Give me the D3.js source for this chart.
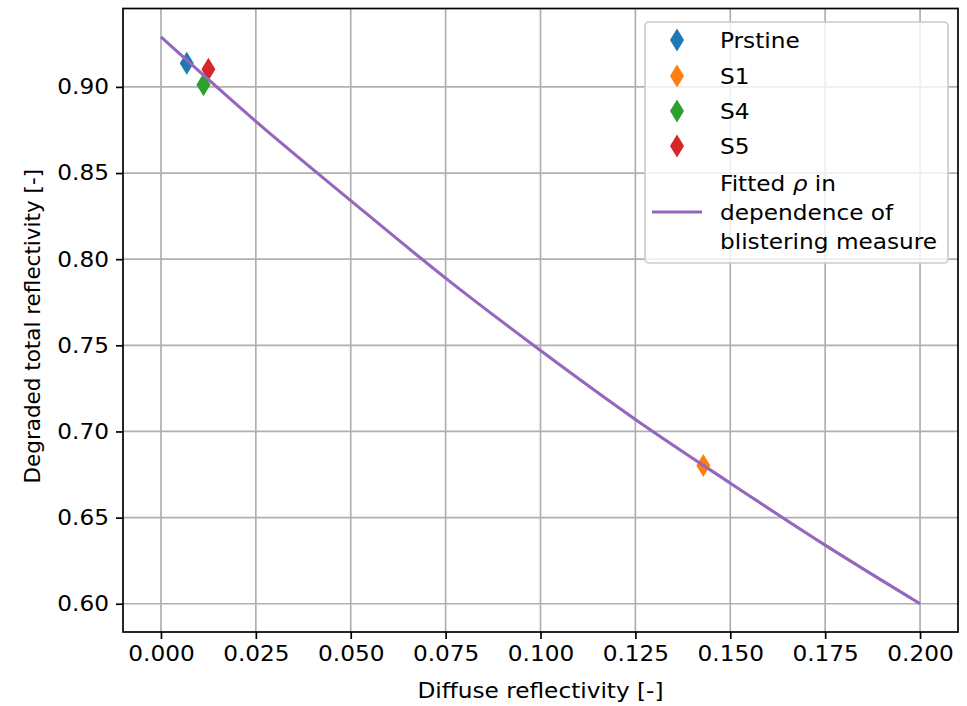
<!DOCTYPE html>
<html>
<head>
<meta charset="utf-8">
<script src="https://cdn.jsdelivr.net/npm/d3@7"></script>
<style>
  body { margin: 0; background: #fff; }
  svg { font-family: "DejaVu Sans", sans-serif; }
</style>
</head>
<body>
<script>
// measured samples
const sampleNames = ["Prstine", "S1", "S4", "S5"];
const sampleX = [0.0068, 0.1429, 0.0112, 0.0125];
const sampleY = [0.9137, 0.6802, 0.9012, 0.9103];
const sampleColors = ["#1f77b4", "#ff7f0e", "#2ca02c", "#d62728"];

// fitted curve
const fitX = [0, 0.025, 0.05, 0.075, 0.1, 0.125, 0.15, 0.175, 0.2];
const fitY = [0.929, 0.880, 0.834, 0.789, 0.747, 0.707, 0.670, 0.634, 0.600];
const fitColor = "#9467bd";

const xTicks = [0, 0.025, 0.05, 0.075, 0.1, 0.125, 0.15, 0.175, 0.2];
const yTicks = [0.60, 0.65, 0.70, 0.75, 0.80, 0.85, 0.90];

const width = 967, height = 706;
const fontSize = 21.5;
const stretch = "scale(1.08,1)"; // the reference is a bit wider than tall

const svg = d3.select("body").append("svg")
  .attr("width", width)
  .attr("height", height);

const x = d3.scaleLinear().domain([-0.01, 0.21]).range([123, 958]);
const y = d3.scaleLinear().domain([0.5836, 0.9455]).range([632, 8.5]);

// grid
svg.append("g")
  .selectAll("line")
  .data(xTicks)
  .join("line")
  .attr("x1", (d) => x(d)).attr("x2", (d) => x(d))
  .attr("y1", y.range()[0]).attr("y2", y.range()[1])
  .attr("stroke", "#b0b0b0").attr("stroke-width", 1.7);

svg.append("g")
  .selectAll("line")
  .data(yTicks)
  .join("line")
  .attr("y1", (d) => y(d)).attr("y2", (d) => y(d))
  .attr("x1", x.range()[0]).attr("x2", x.range()[1])
  .attr("stroke", "#b0b0b0").attr("stroke-width", 1.7);

// axes
const xAxis = svg.append("g")
  .attr("transform", `translate(0,${y.range()[0]})`)
  .call(d3.axisBottom(x).tickValues(xTicks).tickFormat(d3.format(".3f"))
    .tickSize(7).tickPadding(7));
const yAxis = svg.append("g")
  .attr("transform", `translate(${x.range()[0]},0)`)
  .call(d3.axisLeft(y).tickValues(yTicks).tickFormat(d3.format(".2f"))
    .tickSize(7).tickPadding(7));

[xAxis, yAxis].forEach((a) => {
  a.select(".domain").remove();
  a.selectAll("line").attr("stroke", "#000").attr("stroke-width", 1.7);
  a.selectAll("text")
    .attr("font-size", fontSize)
    .attr("font-family", "DejaVu Sans, sans-serif")
    .attr("fill", "#000")
    .attr("transform", stretch);
});
yAxis.selectAll("text").attr("x", -13);

// frame
svg.append("rect")
  .attr("x", x.range()[0]).attr("y", y.range()[1])
  .attr("width", x.range()[1] - x.range()[0])
  .attr("height", y.range()[0] - y.range()[1])
  .attr("fill", "none").attr("stroke", "#000").attr("stroke-width", 1.7);

// axis labels
svg.append("g")
  .attr("transform", `translate(${(x.range()[0] + x.range()[1]) / 2},698) ${stretch}`)
  .append("text")
  .attr("text-anchor", "middle")
  .attr("font-size", fontSize)
  .text("Diffuse reflectivity [-]");

svg.append("text")
  .attr("transform", `translate(40,${(y.range()[0] + y.range()[1]) / 2 + 6}) rotate(-90)`)
  .attr("text-anchor", "middle")
  .attr("font-size", fontSize)
  .text("Degraded total reflectivity [-]");

// diamond marker path
function diamond(cx, cy) {
  const hw = 7, hh = 11.5;
  return `M${cx},${cy - hh}L${cx + hw},${cy}L${cx},${cy + hh}L${cx - hw},${cy}Z`;
}

const plot = svg.append("g");

plot.selectAll("path.pt")
  .data(sampleNames)
  .join("path")
  .attr("class", "pt")
  .attr("d", (d, i) => diamond(x(sampleX[i]), y(sampleY[i])))
  .attr("fill", (d, i) => sampleColors[i]);

const line = d3.line()
  .x((d) => x(d[0]))
  .y((d) => y(d[1]))
  .curve(d3.curveMonotoneX);

plot.append("path")
  .datum(fitX.map((v, i) => [v, fitY[i]]))
  .attr("d", line)
  .attr("fill", "none")
  .attr("stroke", fitColor)
  .attr("stroke-width", 3.1);

// legend
const legend = svg.append("g");
legend.append("rect")
  .attr("x", 645).attr("y", 22)
  .attr("width", 303).attr("height", 241)
  .attr("rx", 4)
  .attr("fill", "#fff").attr("fill-opacity", 0.8)
  .attr("stroke", "#cccccc").attr("stroke-width", 1.7);

function legendText(ty) {
  return legend.append("g")
    .attr("transform", `translate(720,${ty}) ${stretch}`)
    .append("text")
    .attr("dy", "0.36em")
    .attr("font-size", fontSize);
}

const rowY = [40, 76, 111, 146];
sampleNames.forEach((name, i) => {
  legend.append("path")
    .attr("d", diamond(677, rowY[i]))
    .attr("fill", sampleColors[i]);
  legendText(rowY[i]).text(name);
});

legend.append("line")
  .attr("x1", 652).attr("x2", 702)
  .attr("y1", 212).attr("y2", 212)
  .attr("stroke", fitColor).attr("stroke-width", 3.1);

const first = legendText(183);
first.append("tspan").text("Fitted ");
first.append("tspan").attr("font-style", "italic").text("\u03C1");
first.append("tspan").text(" in");
legendText(212).text("dependence of");
legendText(241).text("blistering measure");
</script>
</body>
</html>
